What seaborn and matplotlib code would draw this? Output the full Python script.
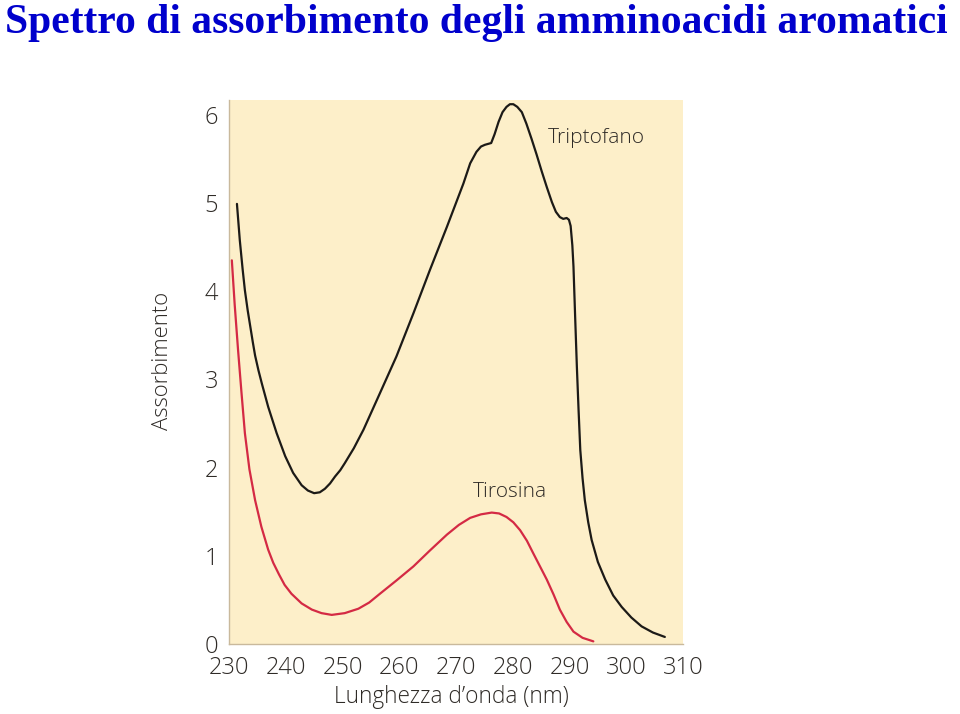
import matplotlib
matplotlib.use("Agg")
import matplotlib.pyplot as plt
import seaborn as sns
import pandas as pd

# ---- data ----
trp_nm = [231.4, 231.9, 232.4, 232.8, 233.3, 233.7, 234.2, 234.6, 235.2, 235.8,
          236.9, 238.4, 239.9, 241.3, 242.8, 243.9, 245.0, 246.0, 246.9, 247.8,
          248.7, 249.6, 250.4, 252.0, 253.7, 256.5, 259.5, 262.5, 265.4, 268.4,
          271.3, 272.5, 273.6, 274.4, 275.1, 276.2, 276.8, 277.5, 278.2, 278.9,
          279.5, 280.1, 280.8, 281.6, 282.4, 283.3, 284.2, 285.1, 286.0, 286.9,
          287.6, 288.3, 288.9, 289.5, 289.9, 290.2, 290.5, 290.7, 291.0, 291.3,
          291.6, 291.9, 292.3, 292.7, 293.3, 293.9, 295.0, 296.3, 297.7, 299.2,
          300.9, 302.7, 304.7, 306.8]
trp_abs = [4.99, 4.58, 4.25, 4.01, 3.78, 3.62, 3.42, 3.27, 3.10, 2.95,
           2.69, 2.39, 2.13, 1.94, 1.80, 1.74, 1.71, 1.72, 1.76, 1.82,
           1.90, 1.97, 2.05, 2.22, 2.43, 2.83, 3.26, 3.75, 4.24, 4.73,
           5.22, 5.45, 5.58, 5.64, 5.66, 5.68, 5.78, 5.92, 6.03, 6.09,
           6.12, 6.12, 6.09, 6.03, 5.90, 5.73, 5.55, 5.36, 5.18, 5.01,
           4.90, 4.84, 4.82, 4.83, 4.81, 4.74, 4.52, 4.28, 3.70, 3.14,
           2.65, 2.20, 1.88, 1.63, 1.38, 1.18, 0.93, 0.73, 0.55, 0.42,
           0.30, 0.20, 0.13, 0.08]

tyr_nm = [230.5, 231.0, 231.6, 232.2, 232.8, 233.6, 234.6, 235.7, 236.9, 237.8,
          238.8, 239.8, 241.0, 242.8, 244.6, 246.3, 248.1, 250.4, 252.8, 254.7,
          256.6, 259.5, 262.5, 265.4, 268.4, 270.5, 272.5, 274.4, 276.3, 277.6,
          278.9, 280.1, 281.3, 282.5, 283.6, 284.8, 286.0, 287.2, 288.3, 289.5,
          290.7, 292.3, 294.2]
tyr_abs = [4.35, 3.85, 3.33, 2.85, 2.39, 1.98, 1.63, 1.33, 1.07, 0.92,
           0.79, 0.67, 0.57, 0.46, 0.39, 0.35, 0.33, 0.35, 0.40, 0.47,
           0.57, 0.72, 0.88, 1.06, 1.24, 1.35, 1.43, 1.47, 1.49, 1.48,
           1.44, 1.38, 1.29, 1.17, 1.03, 0.88, 0.73, 0.56, 0.39, 0.25,
           0.14, 0.07, 0.03]

x_ticks = [230, 240, 250, 260, 270, 280, 290, 300, 310]
y_ticks = [0, 1, 2, 3, 4, 5, 6]

title = "Spettro di assorbimento degli amminoacidi aromatici"
x_label = "Lunghezza d\u2019onda (nm)"
y_label = "Assorbimento"
trp_name = "Triptofano"
tyr_name = "Tirosina"

df = pd.concat([
    pd.DataFrame({"nm": trp_nm, "abs": trp_abs, "aa": trp_name}),
    pd.DataFrame({"nm": tyr_nm, "abs": tyr_abs, "aa": tyr_name}),
], ignore_index=True)

sns.set_theme(style="white")
plt.rcParams["font.family"] = ["Open Sans", "DejaVu Sans"]
plt.rcParams["font.weight"] = "light"
plt.rcParams["axes.labelweight"] = "light"

text_col = "#2f2b27"
spine_col = "#c9b99c"
bg_col = "#fdefc9"

fig = plt.figure(figsize=(9.6, 7.14), dpi=100)
ax = fig.add_axes([229/960, 70/714, (683-229)/960, (644-100)/714])
ax.set_facecolor(bg_col)

sns.lineplot(data=df, x="nm", y="abs", hue="aa", sort=False, estimator=None,
             palette={trp_name: "#1c1a17", tyr_name: "#d42a44"},
             linewidth=1.6, legend=False, ax=ax)

ax.set_xlim(230, 310)
ax.set_ylim(0, (644-100)/88.2)
ax.set_xticks(x_ticks)
ax.set_yticks(y_ticks)
ax.tick_params(axis="both", direction="in", length=8, width=1, color=spine_col,
               labelcolor=text_col, labelsize=17)
ax.tick_params(axis="x", pad=9)
ax.tick_params(axis="y", pad=8)

for s in ["top", "right"]:
    ax.spines[s].set_visible(False)
for s in ["left", "bottom"]:
    ax.spines[s].set_color(spine_col)
    ax.spines[s].set_linewidth(1)

ax.set_xlabel(x_label, fontsize=16.3, color=text_col, fontweight="light")
ax.set_ylabel(y_label, fontsize=15.8, color=text_col, fontweight="light")
ax.xaxis.set_label_coords((451-229)/454, (644-697)/544)
ax.yaxis.set_label_coords((163-229)/454, (644-361)/544)
ax.xaxis.label.set_va("center")
ax.yaxis.label.set_va("center")

ax.text(286.2, 5.74, trp_name, fontsize=15, color=text_col, va="center", ha="left",
        fontweight="light")
ax.text(273.0, 1.72, tyr_name, fontsize=15, color=text_col, va="center", ha="left",
        fontweight="light")

fig.text(5/960, 1 - 4/714, title, family=["Liberation Serif"], fontweight="bold",
         fontsize=30, color="#0000cc", ha="left", va="top")

fig.savefig("out.png", dpi=100, facecolor="white")
